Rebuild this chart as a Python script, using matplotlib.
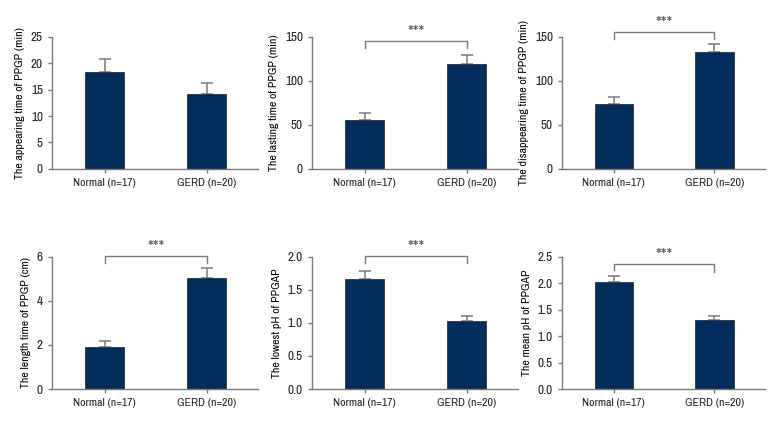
import matplotlib
matplotlib.use("Agg")
import matplotlib.pyplot as plt
from matplotlib import font_manager
import numpy as np

# prefer a narrow face, the original uses a condensed font
names = sorted({(f.name, f.stretch) for f in font_manager.fontManager.ttflist})
narrow = [n for n, s in names if "Narrow" in n or "Condensed" in n]
cond_stretch = [n for n, s in names if s in ("condensed", "semi-condensed", 75, 87)]
FAM = "DejaVu Sans"
STRETCH = "normal"
if narrow:
    FAM = narrow[0]
elif cond_stretch:
    FAM = cond_stretch[0]
    STRETCH = "condensed"
plt.rcParams['font.family'] = [FAM, 'DejaVu Sans']
plt.rcParams['font.stretch'] = STRETCH

groups = ["Normal (n=17)", "GERD (n=20)"]

ylabels = ["The appearing time of PPGP (min)", "The lasting time of PPGP (min)",
           "The disappearing time of PPGP (min)", "The length time of PPGP (cm)",
           "The lowest pH of PPGAP", "The mean pH of PPGAP"]
means = [[18.4, 14.2], [55.5, 119.0], [74.0, 132.2],
         [1.90, 5.03], [1.66, 1.03], [2.03, 1.31]]
errs = [[2.4, 2.1], [8.3, 10.2], [7.2, 9.5],
        [0.26, 0.47], [0.12, 0.07], [0.11, 0.075]]
ylims = [25, 150, 150, 6, 2.0, 2.5]
ysteps = [5, 50, 50, 2, 0.5, 0.5]
yfmt = ["{:.0f}", "{:.0f}", "{:.0f}", "{:.0f}", "{:.1f}", "{:.1f}"]
# significance bracket: (bracket height, left tip, right tip) or None
brackets = [None, (145, 137, 137), (155, 147, 147),
            (6.06, 5.7, 5.7), (2.005, 1.9, 1.9), (2.37, 2.25, 2.22)]

BAR = "#022c5c"
GREY = "#7a7a7a"
narrow_ok = FAM != "DejaVu Sans"
FS = 8.5 if narrow_ok else 7.5
FSY = 9.5 if narrow_ok else 8

fig = plt.figure(figsize=(7.8, 4.32), dpi=100)
pos = [(0.0667, 0.609, 0.264, 0.306), (0.4, 0.609, 0.264, 0.306),
       (0.7205, 0.609, 0.260, 0.306), (0.0667, 0.0995, 0.264, 0.306),
       (0.4, 0.0995, 0.264, 0.306), (0.7205, 0.0995, 0.260, 0.306)]

for i in range(6):
    ax = fig.add_axes(pos[i])
    x = np.arange(2)
    ax.bar(x, means[i], width=0.38, color=BAR, edgecolor="#333333", lw=0.6, zorder=2)
    ax.errorbar(x, means[i], yerr=[[0, 0], errs[i]], fmt="none", ecolor=GREY,
                elinewidth=1.1, capsize=4.5, capthick=1.1, zorder=1)
    ax.set_xlim(-0.515, 1.5)
    ax.set_ylim(0, ylims[i])
    ticks = np.arange(0, ylims[i] + 1e-9, ysteps[i])
    ax.set_yticks(ticks)
    ax.set_yticklabels([yfmt[i].format(t) for t in ticks])
    ax.set_xticks(x)
    ax.set_xticklabels(groups)
    ax.set_ylabel(ylabels[i], fontsize=FS, labelpad=4)
    for s in ["top", "right"]:
        ax.spines[s].set_visible(False)
    for s in ["left", "bottom"]:
        ax.spines[s].set_color(GREY)
        ax.spines[s].set_linewidth(1.0)
    ax.tick_params(axis="both", colors=GREY, labelcolor="#222222", labelsize=FS,
                   length=3, width=1.0, direction="out")
    ax.tick_params(axis="y", labelsize=FSY)
    b = brackets[i]
    if b is not None:
        h, l, r = b
        ax.plot([0, 0, 1, 1], [l, h, h, r], color=GREY, lw=1.0, clip_on=False)
        ax.text(0.5, h, "***", ha="center", va="bottom",
                fontsize=13, color="#666666", clip_on=False)

fig.savefig("out.png", dpi=100)
